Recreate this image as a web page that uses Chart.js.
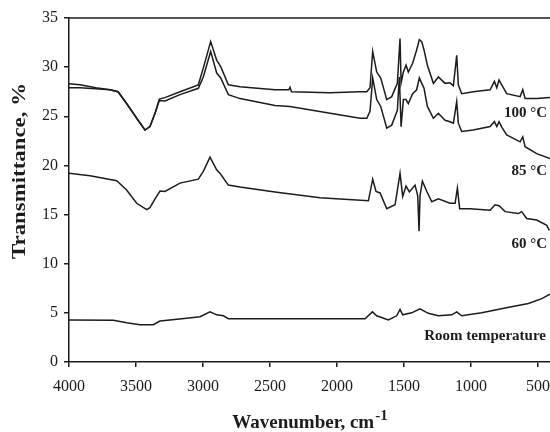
<!DOCTYPE html>
<html>
<head>
<meta charset="utf-8">
<script src="https://cdn.jsdelivr.net/npm/chart.js@4.4.0/dist/chart.umd.min.js"></script>
<style>
  html, body { margin: 0; padding: 0; background: #fff; }
  #wrap { width: 550px; height: 432px; }
</style>
</head>
<body>
<div id="wrap"><canvas id="ftirChart" width="550" height="432"></canvas></div>
<script>
// wavenumber (cm-1) and transmittance (%)
const wn100 = [4000, 3918, 3800, 3694, 3634, 3570, 3495, 3433, 3396, 3358, 3326, 3284, 3172, 3035, 2998, 2943, 2898, 2868, 2811, 2724, 2463, 2360, 2351, 2340, 2052, 1828, 1778, 1754, 1734, 1704, 1674, 1629, 1592, 1550, 1530, 1522, 1505, 1485, 1468, 1436, 1406, 1386, 1368, 1351, 1326, 1281, 1244, 1194, 1157, 1132, 1107, 1095, 1070, 984, 858, 826, 808, 791, 771, 734, 634, 614, 597, 510, 411];
const t100 = [28.3, 28.2, 27.9, 27.7, 27.5, 26.3, 24.8, 23.6, 23.95, 25.3, 26.75, 26.9, 27.5, 28.2, 29.9, 32.6, 30.7, 30.05, 28.2, 28.0, 27.7, 27.7, 27.95, 27.5, 27.4, 27.5, 27.5, 27.9, 31.6, 29.5, 28.9, 26.7, 27.0, 28.35, 32.9, 28.4, 29.5, 30.2, 29.5, 30.4, 31.75, 32.8, 32.6, 31.75, 30.2, 28.35, 29.0, 28.35, 28.4, 28.1, 31.2, 28.2, 27.3, 27.5, 27.7, 28.55, 27.9, 28.7, 28.2, 27.3, 27.0, 27.7, 26.8, 26.8, 26.9];

const wn85 = [4000, 3918, 3800, 3694, 3634, 3570, 3495, 3433, 3396, 3358, 3326, 3284, 3172, 3035, 2998, 2943, 2898, 2868, 2811, 2724, 2463, 2351, 2052, 1828, 1778, 1754, 1734, 1704, 1674, 1629, 1592, 1550, 1535, 1522, 1505, 1485, 1468, 1436, 1406, 1386, 1368, 1351, 1326, 1281, 1244, 1194, 1157, 1132, 1107, 1095, 1070, 984, 858, 826, 808, 791, 771, 734, 634, 614, 597, 510, 411];
const t85 = [27.9, 27.9, 27.8, 27.7, 27.5, 26.3, 24.8, 23.6, 23.95, 25.3, 26.6, 26.55, 27.2, 27.85, 29.0, 31.6, 29.4, 28.9, 27.2, 26.8, 26.1, 26.0, 25.3, 24.8, 24.8, 25.5, 28.9, 26.7, 26.0, 23.8, 24.1, 25.6, 29.0, 23.95, 26.7, 26.7, 26.3, 27.3, 27.7, 28.9, 28.35, 27.85, 26.0, 24.8, 25.3, 24.6, 24.45, 24.3, 26.5, 24.3, 23.45, 23.6, 23.95, 24.45, 23.95, 24.45, 23.9, 23.1, 22.4, 22.9, 21.9, 21.2, 20.7];

const wn60 = [4000, 3843, 3644, 3570, 3495, 3420, 3396, 3358, 3321, 3284, 3172, 3035, 2998, 2948, 2898, 2868, 2811, 2724, 2463, 2127, 1766, 1734, 1709, 1679, 1629, 1567, 1530, 1510, 1485, 1460, 1418, 1398, 1388, 1381, 1363, 1330, 1293, 1244, 1157, 1119, 1102, 1085, 1007, 858, 821, 791, 746, 647, 622, 585, 510, 435, 416];
const t60 = [19.2, 18.95, 18.45, 17.5, 16.15, 15.5, 15.7, 16.6, 17.4, 17.35, 18.2, 18.6, 19.4, 20.85, 19.55, 19.1, 18.0, 17.8, 17.3, 16.7, 16.4, 18.6, 17.35, 17.2, 15.6, 16.0, 19.2, 16.85, 17.9, 17.3, 18.0, 16.9, 13.3, 16.9, 18.4, 17.35, 16.3, 16.6, 16.15, 16.15, 17.7, 15.6, 15.6, 15.45, 16.0, 15.9, 15.3, 15.1, 15.3, 14.6, 14.45, 13.9, 13.4];

const wnRT = [4000, 3669, 3570, 3470, 3371, 3321, 3122, 3022, 2948, 2898, 2848, 2811, 2463, 1791, 1736, 1704, 1617, 1555, 1530, 1510, 1443, 1381, 1319, 1244, 1144, 1107, 1070, 920, 746, 572, 472, 411];
const tRT = [4.27, 4.25, 4.0, 3.8, 3.8, 4.17, 4.44, 4.6, 5.1, 4.8, 4.7, 4.4, 4.4, 4.4, 5.1, 4.7, 4.27, 4.7, 5.35, 4.8, 5.0, 5.4, 4.95, 4.7, 4.8, 5.1, 4.7, 5.0, 5.5, 5.95, 6.45, 6.9];

const xTicks = [4000, 3500, 3000, 2500, 2000, 1500, 1000, 500];
const seriesLabels = ['100 °C', '85 °C', '60 °C', 'Room temperature'];

const SERIF = '"Liberation Serif", "Times New Roman", serif';
const INK = '#1c1c1c';

const toPoints = (xs, ys) => xs.map((x, i) => ({ x: x, y: ys[i] }));

const lineSet = (label, xs, ys) => ({
    label: label,
    data: toPoints(xs, ys),
    borderColor: INK,
    borderWidth: 1.5,
    pointRadius: 0,
    tension: 0,
    fill: false
});

// frame top line, axis titles and curve labels
const decorations = {
    id: 'decorations',
    afterDraw(chart) {
        const { ctx, chartArea } = chart;
        ctx.save();
        ctx.strokeStyle = INK;
        ctx.lineWidth = 1.5;
        ctx.beginPath();
        ctx.moveTo(chartArea.left, chartArea.top);
        ctx.lineTo(chartArea.right, chartArea.top);
        ctx.stroke();

        ctx.fillStyle = INK;

        // curve labels
        ctx.font = 'bold 15px ' + SERIF;
        ctx.textAlign = 'right';
        ctx.textBaseline = 'alphabetic';
        ctx.fillText(seriesLabels[0], 547, 117);
        ctx.fillText(seriesLabels[1], 547, 175);
        ctx.fillText(seriesLabels[2], 547, 248);
        ctx.fillText(seriesLabels[3], 546, 340);

        // x title with superscript
        const main = 'Wavenumber, cm';
        ctx.font = 'bold 15px ' + SERIF;
        const supW = ctx.measureText('-1').width;
        ctx.font = 'bold 19px ' + SERIF;
        const mainW = ctx.measureText(main).width;
        const cx = (chartArea.left + chartArea.right) / 2;
        const x0 = cx - (mainW + supW) / 2;
        ctx.textAlign = 'left';
        ctx.fillText(main, x0, 428);
        ctx.font = 'bold 15px ' + SERIF;
        ctx.fillText('-1', x0 + mainW + 1, 420);

        // y title, stretched along its length like the original
        ctx.font = 'bold 19px ' + SERIF;
        const yTitle = 'Transmittance, %';
        const stretch = 176 / ctx.measureText(yTitle).width;
        ctx.translate(25, 171);
        ctx.rotate(-Math.PI / 2);
        ctx.scale(stretch, 1);
        ctx.textAlign = 'center';
        ctx.fillText(yTitle, 0, 0);
        ctx.restore();
    }
};

new Chart(document.getElementById('ftirChart').getContext('2d'), {
    type: 'line',
    data: {
        datasets: [
            lineSet(seriesLabels[0], wn100, t100),
            lineSet(seriesLabels[1], wn85, t85),
            lineSet(seriesLabels[2], wn60, t60),
            lineSet(seriesLabels[3], wnRT, tRT)
        ]
    },
    options: {
        responsive: false,
        animation: false,
        layout: { padding: { top: 18, right: 0, left: 0, bottom: 0 } },
        plugins: { legend: { display: false }, tooltip: { enabled: false } },
        scales: {
            x: {
                type: 'linear',
                reverse: true,
                min: 411,
                max: 4000,
                afterBuildTicks: (scale) => { scale.ticks = xTicks.map(v => ({ value: v })); },
                afterFit: (scale) => { scale.height = 70; scale.paddingLeft = 0; scale.paddingRight = 0; },
                grid: { display: true, drawOnChartArea: false, tickLength: 5, color: INK, lineWidth: 1.5 },
                border: { display: true, color: INK, width: 1.5 },
                ticks: { color: INK, padding: 10, maxRotation: 0, autoSkip: false, font: { family: SERIF, size: 16 },
                         callback: (v) => String(v) }
            },
            y: {
                min: 0,
                max: 35,
                afterFit: (scale) => { scale.width = 69; scale.paddingTop = 0; scale.paddingBottom = 0; },
                grid: { display: true, drawOnChartArea: false, tickLength: 5, color: INK, lineWidth: 1.5 },
                border: { display: true, color: INK, width: 1.5 },
                ticks: { stepSize: 5, color: INK, padding: 6, font: { family: SERIF, size: 16 },
                         callback: (v) => String(v) }
            }
        }
    },
    plugins: [decorations]
});
</script>
</body>
</html>
